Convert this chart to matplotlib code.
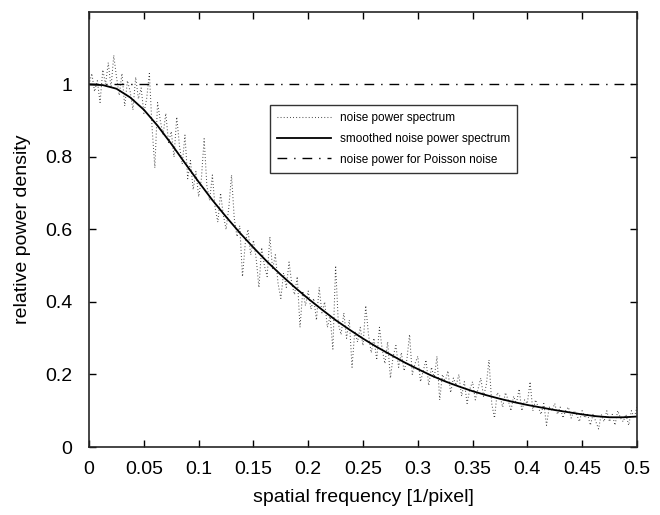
import numpy as np
import matplotlib
matplotlib.use('Agg')
import matplotlib.pyplot as plt

plt.rcParams['font.family'] = ['Liberation Sans', 'DejaVu Sans']

# smoothed noise power spectrum, read at steps of 0.0125
smooth_freq = np.arange(41) * 0.0125
smooth_vals = [1.000, 0.998, 0.988, 0.964, 0.930, 0.886, 0.836, 0.783, 0.731, 0.681,
               0.635, 0.591, 0.550, 0.511, 0.475, 0.441, 0.409, 0.379, 0.350, 0.324,
               0.299, 0.276, 0.255, 0.234, 0.215, 0.197, 0.181, 0.167, 0.154, 0.143,
               0.133, 0.124, 0.116, 0.109, 0.102, 0.096, 0.090, 0.085, 0.082, 0.082,
               0.084]

# raw noise power spectrum, read at steps of 0.0025
noise_freq = np.arange(201) * 0.0025
noise_vals = [1.00, 1.03, 0.98, 1.01, 0.95, 1.04, 1.00, 1.06, 0.99, 1.08,
              1.02, 0.97, 1.03, 0.94, 1.01, 0.98, 0.93, 1.02, 0.96, 0.99,
              0.92, 0.96, 1.03, 0.88, 0.77, 0.95, 0.90, 0.86, 0.92, 0.84,
              0.87, 0.80, 0.91, 0.83, 0.78, 0.86, 0.74, 0.79, 0.71, 0.76,
              0.69, 0.74, 0.85, 0.72, 0.68, 0.75, 0.66, 0.62, 0.70, 0.64,
              0.60, 0.66, 0.75, 0.63, 0.58, 0.61, 0.47, 0.56, 0.60, 0.53,
              0.57, 0.52, 0.44, 0.55, 0.50, 0.47, 0.58, 0.49, 0.53, 0.45,
              0.41, 0.48, 0.44, 0.51, 0.45, 0.42, 0.47, 0.33, 0.43, 0.39,
              0.43, 0.38, 0.41, 0.35, 0.44, 0.37, 0.40, 0.33, 0.36, 0.27,
              0.50, 0.34, 0.31, 0.37, 0.30, 0.35, 0.22, 0.32, 0.29, 0.33,
              0.28, 0.39, 0.31, 0.26, 0.30, 0.24, 0.33, 0.27, 0.23, 0.29,
              0.19, 0.25, 0.28, 0.22, 0.26, 0.21, 0.24, 0.31, 0.20, 0.23,
              0.25, 0.18, 0.21, 0.24, 0.17, 0.22, 0.19, 0.25, 0.13, 0.20,
              0.18, 0.21, 0.15, 0.19, 0.17, 0.20, 0.14, 0.18, 0.12, 0.16,
              0.18, 0.13, 0.16, 0.19, 0.14, 0.17, 0.24, 0.12, 0.08, 0.15,
              0.14, 0.11, 0.15, 0.13, 0.10, 0.14, 0.12, 0.16, 0.10, 0.13,
              0.12, 0.18, 0.10, 0.13, 0.11, 0.09, 0.12, 0.06, 0.11, 0.10,
              0.12, 0.09, 0.11, 0.08, 0.10, 0.11, 0.08, 0.10, 0.09, 0.07,
              0.10, 0.08, 0.09, 0.06, 0.09, 0.07, 0.05, 0.09, 0.07, 0.10,
              0.07, 0.09, 0.06, 0.10, 0.08, 0.07, 0.09, 0.06, 0.10, 0.08,
              0.11]

poisson_level = 1.0

fig = plt.figure(figsize=(6.6, 5.15), dpi=100)
ax = fig.add_axes([0.135, 0.132, 0.83, 0.845])

ax.plot(noise_freq, noise_vals, color='0.2', lw=0.75, dashes=(0.8, 2.2),
        label='noise power spectrum')
ax.plot(smooth_freq, smooth_vals, color='black', lw=1.3,
        label='smoothed noise power spectrum')
ax.plot([0, 0.5], [poisson_level, poisson_level], color='black', lw=1.0,
        dashes=(7, 5, 1, 5), label='noise power for Poisson noise')

ax.set_xlim(0, 0.5)
ax.set_ylim(0, 1.2)
ax.set_xticks(np.arange(0, 0.51, 0.05))
ax.set_xticklabels(['0', '0.05', '0.1', '0.15', '0.2', '0.25', '0.3', '0.35', '0.4', '0.45', '0.5'])
ax.set_yticks([0, 0.2, 0.4, 0.6, 0.8, 1.0])
ax.set_yticklabels(['0', '0.2', '0.4', '0.6', '0.8', '1'])
ax.tick_params(direction='in', length=5, width=1, top=True, right=True, labelsize=14)
ax.tick_params(axis='x', pad=10)
ax.tick_params(axis='y', pad=12)
for s in ax.spines.values():
    s.set_linewidth(1.2)
    s.set_color('0.15')

ax.set_xlabel('spatial frequency [1/pixel]', fontsize=14, labelpad=8)
ax.set_ylabel('relative power density', fontsize=14, labelpad=10)

leg = ax.legend(loc='upper left', bbox_to_anchor=(0.32, 0.80), fontsize=8.5,
                handlelength=4.5, handletextpad=0.8, labelspacing=0.75,
                borderpad=0.6, fancybox=False, framealpha=1, edgecolor='0.2')
leg.get_frame().set_linewidth(1.0)

fig.savefig('out.png', dpi=100)
